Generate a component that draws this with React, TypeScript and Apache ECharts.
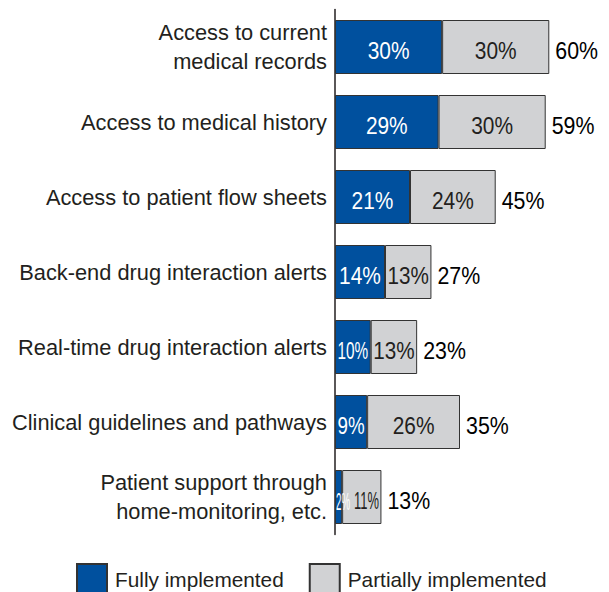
import React, { useEffect, useRef } from 'react';
import * as echarts from 'echarts';

const categories = [
  'Access to current\nmedical records',
  'Access to medical history',
  'Access to patient flow sheets',
  'Back-end drug interaction alerts',
  'Real-time drug interaction alerts',
  'Clinical guidelines and pathways',
  'Patient support through\nhome-monitoring, etc.',
];
const fullyImplemented = [30, 29, 21, 14, 10, 9, 2];
const partiallyImplemented = [30, 30, 24, 13, 13, 26, 11];
const seriesNames = ['Fully implemented', 'Partially implemented'];

const W = 609;
const H = 592;
const GRID_LEFT = 335;
const GRID_RIGHT = 24;
const X_MAX = 70;
const FONT = "'Liberation Sans', Arial, sans-serif";
const VALUE_SIZE = 24;
const MAX_SCALE = 0.87;
const SIDE_PAD = 2.5;
const MIN_W = 14;
const DY = 4;

let measureCtx: CanvasRenderingContext2D | null = null;
function textWidth(t: string): number {
  if (!measureCtx) {
    measureCtx = document.createElement('canvas').getContext('2d');
  }
  if (!measureCtx) return t.length * VALUE_SIZE * 0.6;
  measureCtx.font = `${VALUE_SIZE}px 'Liberation Sans', Arial, sans-serif`;
  return measureCtx.measureText(t).width;
}

function textEl(text: string, cx: number, cy: number, scaleX: number, fill: string) {
  return {
    type: 'text',
    x: cx,
    y: cy,
    scaleX,
    scaleY: 1,
    silent: true,
    z: 100,
    style: {
      text,
      fill,
      fontSize: VALUE_SIZE,
      fontFamily: FONT,
      align: 'center',
      verticalAlign: 'middle',
      textAlign: 'center',
      textVerticalAlign: 'middle',
    },
  };
}

export default function App() {
  const ref = useRef<HTMLDivElement>(null);
  useEffect(() => {
    if (!ref.current) return;
    const chart = echarts.init(ref.current, undefined, { renderer: 'svg' });
    const totals = fullyImplemented.map((v, i) => v + partiallyImplemented[i]);
    chart.setOption({
      animation: false,
      backgroundColor: '#ffffff',
      grid: { left: GRID_LEFT, right: GRID_RIGHT, top: 9.5, bottom: H - 534.5, containLabel: false },
      legend: {
        data: seriesNames,
        left: 76,
        top: 563,
        padding: 0,
        icon: 'rect',
        itemWidth: 30,
        itemHeight: 30,
        itemGap: 25,
        textStyle: { fontSize: 20.8, fontFamily: FONT, color: '#231f20', padding: [10, 0, 0, 3] },
      },
      xAxis: {
        type: 'value',
        min: 0,
        max: X_MAX,
        show: false,
        splitLine: { show: false },
      },
      yAxis: {
        type: 'category',
        data: categories,
        inverse: true,
        axisLine: { show: true, lineStyle: { color: '#231f20', width: 1.5 } },
        axisTick: { show: false },
        axisLabel: {
          margin: 8,
          fontSize: 21.8,
          fontFamily: FONT,
          color: '#231f20',
          lineHeight: 28.5,
          align: 'right',
          padding: [5, 0, 0, 0],
        },
      },
      series: [
        {
          name: seriesNames[0],
          type: 'bar',
          stack: 'total',
          barWidth: 54,
          itemStyle: { color: '#00509e', borderColor: '#333333', borderWidth: 1 },
          data: fullyImplemented,
        },
        {
          name: seriesNames[1],
          type: 'bar',
          stack: 'total',
          barWidth: 54,
          itemStyle: { color: '#d1d2d4', borderColor: '#333333', borderWidth: 1 },
          data: partiallyImplemented,
        },
      ],
    });

    // Value labels placed through the chart's own scales, horizontally condensed like the original.
    const els: any[] = [];
    categories.forEach((_, i) => {
      const [x0, yc] = chart.convertToPixel({ gridIndex: 0 }, [0, i]) as number[];
      const x1 = (chart.convertToPixel({ gridIndex: 0 }, [fullyImplemented[i], i]) as number[])[0];
      const x2 = (chart.convertToPixel({ gridIndex: 0 }, [totals[i], i]) as number[])[0];
      const cy = yc + DY;

      // fully implemented
      const t1 = `${fullyImplemented[i]}%`;
      const n1 = textWidth(t1);
      const avail1 = x1 - x0 - 2 * SIDE_PAD;
      const w1 = Math.max(MIN_W, Math.min(n1 * MAX_SCALE, avail1));
      let c1 = (x0 + x1) / 2;
      if (w1 > x1 - x0 - 2) c1 = x0 + 1 + w1 / 2;
      els.push(textEl(t1, c1, cy, w1 / n1, '#ffffff'));
      const end1 = c1 + w1 / 2;

      // partially implemented
      const t2 = `${partiallyImplemented[i]}%`;
      const n2 = textWidth(t2);
      const left2 = Math.max(x1 + SIDE_PAD, end1 + 4);
      const right2 = x2 - SIDE_PAD;
      const w2 = Math.max(MIN_W, Math.min(n2 * MAX_SCALE, right2 - left2));
      const c2 = left2 === x1 + SIDE_PAD ? (x1 + x2) / 2 : (left2 + right2) / 2;
      els.push(textEl(t2, c2, cy, w2 / n2, '#231f20'));

      // total
      const t3 = `${totals[i]}%`;
      const n3 = textWidth(t3);
      const w3 = n3 * 0.89;
      els.push(textEl(t3, x2 + 6 + w3 / 2, cy - 0.5, 0.89, '#000000'));
    });
    chart.setOption({ graphic: els });

    return () => chart.dispose();
  }, []);
  return (
    <div
      ref={ref}
      style={{ position: 'fixed', left: 0, top: 0, width: W, height: H, background: '#fff' }}
    />
  );
}
